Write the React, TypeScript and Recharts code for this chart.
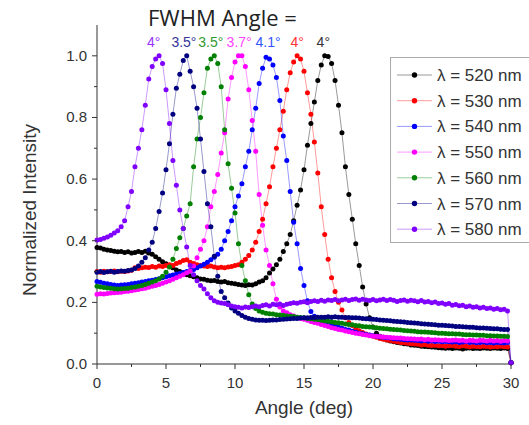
import { LineChart, Line, XAxis, YAxis, ReferenceDot } from "recharts";

const W = 529;
const H = 425;
const FONT = '"Liberation Sans", Arial, sans-serif';
const TEXT = "#333";

// sampling grid of the angle scan (deg)
const ANGLE_STEP = 0.25;
const N_POINTS = 121;
const ANGLES = Array.from({ length: N_POINTS }, (_, i) => i * ANGLE_STEP);

const WAVELENGTHS = ["520", "530", "540", "550", "560", "570", "580"];
const COLORS = ["#000000", "#ff0000", "#0000ff", "#ff00ff", "#008000", "#000080", "#8000ff"];

// normalized intensity, one row = 2 deg
const I520 = [
  0.378, 0.376, 0.372, 0.370, 0.368, 0.366, 0.364, 0.365,
  0.362, 0.364, 0.360, 0.362, 0.365, 0.362, 0.366, 0.360,
  0.356, 0.348, 0.340, 0.332, 0.325, 0.318, 0.312, 0.305,
  0.300, 0.296, 0.290, 0.286, 0.283, 0.280, 0.276, 0.275,
  0.272, 0.270, 0.271, 0.268, 0.266, 0.268, 0.264, 0.262,
  0.260, 0.258, 0.256, 0.255, 0.257, 0.256, 0.260, 0.266,
  0.270, 0.280, 0.295, 0.308, 0.322, 0.340, 0.365, 0.390,
  0.420, 0.465, 0.515, 0.565, 0.630, 0.710, 0.780, 0.850,
  0.920, 0.970, 1.000, 0.998, 0.975, 0.920, 0.840, 0.750,
  0.640, 0.550, 0.470, 0.390, 0.320, 0.250, 0.195, 0.150,
  0.120, 0.100, 0.090, 0.082, 0.078, 0.075, 0.072, 0.070,
  0.068, 0.066, 0.065, 0.062, 0.061, 0.060, 0.058, 0.057,
  0.056, 0.055, 0.054, 0.053, 0.052, 0.051, 0.052, 0.050,
  0.052, 0.051, 0.049, 0.051, 0.052, 0.050, 0.051, 0.050,
  0.052, 0.051, 0.050, 0.052, 0.051, 0.050, 0.052, 0.050,
  0.004,
];

const I530 = [
  0.300, 0.298, 0.301, 0.299, 0.300, 0.302, 0.299, 0.301,
  0.300, 0.302, 0.304, 0.312, 0.310, 0.312, 0.314, 0.313,
  0.316, 0.314, 0.318, 0.316, 0.320, 0.322, 0.320, 0.326,
  0.330, 0.336, 0.338, 0.330, 0.326, 0.322, 0.320, 0.318,
  0.316, 0.318, 0.315, 0.312, 0.314, 0.312, 0.315, 0.316,
  0.320, 0.322, 0.330, 0.340, 0.352, 0.370, 0.395, 0.430,
  0.470, 0.520, 0.575, 0.640, 0.700, 0.760, 0.820, 0.890,
  0.945, 0.980, 1.000, 0.990, 0.950, 0.880, 0.810, 0.720,
  0.620, 0.510, 0.420, 0.340, 0.280, 0.235, 0.200, 0.175,
  0.150, 0.135, 0.125, 0.115, 0.108, 0.102, 0.097, 0.093,
  0.090, 0.087, 0.083, 0.080, 0.078, 0.076, 0.074, 0.072,
  0.070, 0.069, 0.067, 0.066, 0.065, 0.064, 0.062, 0.063,
  0.061, 0.060, 0.061, 0.059, 0.060, 0.058, 0.059, 0.060,
  0.058, 0.057, 0.059, 0.058, 0.056, 0.058, 0.057, 0.056,
  0.058, 0.057, 0.055, 0.057, 0.056, 0.058, 0.056, 0.055,
  0.004,
];

const I540 = [
  0.268, 0.265, 0.262, 0.260, 0.258, 0.256, 0.255, 0.256,
  0.257, 0.258, 0.260, 0.262, 0.264, 0.266, 0.268, 0.270,
  0.272, 0.274, 0.277, 0.280, 0.283, 0.286, 0.289, 0.292,
  0.294, 0.297, 0.300, 0.303, 0.307, 0.312, 0.318, 0.324,
  0.330, 0.338, 0.346, 0.356, 0.372, 0.400, 0.430, 0.465,
  0.510, 0.545, 0.585, 0.640, 0.690, 0.760, 0.830, 0.910,
  0.960, 0.995, 0.990, 0.970, 0.930, 0.855, 0.740, 0.660,
  0.560, 0.460, 0.390, 0.310, 0.255, 0.205, 0.170, 0.155,
  0.145, 0.140, 0.135, 0.131, 0.127, 0.123, 0.119, 0.116,
  0.112, 0.110, 0.106, 0.103, 0.100, 0.098, 0.096, 0.094,
  0.092, 0.090, 0.088, 0.087, 0.085, 0.084, 0.082, 0.081,
  0.080, 0.079, 0.078, 0.078, 0.077, 0.076, 0.075, 0.076,
  0.074, 0.075, 0.073, 0.074, 0.072, 0.073, 0.072, 0.071,
  0.072, 0.070, 0.071, 0.072, 0.070, 0.071, 0.069, 0.070,
  0.071, 0.069, 0.070, 0.068, 0.070, 0.069, 0.068, 0.070,
  0.004,
];

const I550 = [
  0.226, 0.228, 0.227, 0.229, 0.230, 0.231, 0.232, 0.233,
  0.235, 0.236, 0.238, 0.240, 0.242, 0.244, 0.246, 0.249,
  0.252, 0.255, 0.258, 0.262, 0.266, 0.270, 0.275, 0.280,
  0.285, 0.290, 0.296, 0.302, 0.318, 0.345, 0.372, 0.400,
  0.445, 0.510, 0.560, 0.615, 0.685, 0.750, 0.860, 0.930,
  0.980, 1.000, 1.000, 0.965, 0.890, 0.790, 0.690, 0.550,
  0.450, 0.370, 0.320, 0.260, 0.210, 0.185, 0.172, 0.166,
  0.160, 0.156, 0.152, 0.148, 0.145, 0.142, 0.138, 0.135,
  0.132, 0.128, 0.125, 0.122, 0.118, 0.115, 0.112, 0.110,
  0.107, 0.105, 0.102, 0.100, 0.098, 0.096, 0.094, 0.092,
  0.091, 0.090, 0.089, 0.088, 0.087, 0.086, 0.085, 0.084,
  0.084, 0.083, 0.082, 0.082, 0.081, 0.080, 0.081, 0.079,
  0.080, 0.078, 0.079, 0.078, 0.077, 0.078, 0.076, 0.077,
  0.078, 0.076, 0.077, 0.075, 0.077, 0.076, 0.075, 0.077,
  0.076, 0.075, 0.077, 0.075, 0.076, 0.074, 0.076, 0.075,
  0.004,
];

const I560 = [
  0.252, 0.250, 0.248, 0.247, 0.246, 0.244, 0.243, 0.244,
  0.245, 0.246, 0.248, 0.250, 0.252, 0.255, 0.258, 0.262,
  0.266, 0.270, 0.276, 0.285, 0.298, 0.315, 0.340, 0.375,
  0.410, 0.440, 0.480, 0.520, 0.640, 0.730, 0.800, 0.880,
  0.960, 0.990, 1.000, 0.975, 0.900, 0.760, 0.650, 0.570,
  0.490, 0.390, 0.320, 0.270, 0.225, 0.195, 0.180, 0.172,
  0.168, 0.165, 0.163, 0.162, 0.160, 0.159, 0.158, 0.156,
  0.155, 0.154, 0.152, 0.151, 0.150, 0.148, 0.147, 0.145,
  0.144, 0.142, 0.140, 0.139, 0.137, 0.135, 0.134, 0.132,
  0.130, 0.128, 0.127, 0.125, 0.124, 0.122, 0.121, 0.120,
  0.119, 0.118, 0.116, 0.115, 0.114, 0.113, 0.112, 0.111,
  0.110, 0.109, 0.108, 0.107, 0.106, 0.105, 0.104, 0.104,
  0.103, 0.102, 0.101, 0.100, 0.100, 0.099, 0.098, 0.098,
  0.097, 0.097, 0.096, 0.095, 0.095, 0.094, 0.094, 0.093,
  0.093, 0.092, 0.092, 0.091, 0.091, 0.090, 0.090, 0.089,
  0.004,
];

const I570 = [
  0.298, 0.300, 0.297, 0.299, 0.301, 0.298, 0.300, 0.302,
  0.301, 0.303, 0.305, 0.310, 0.318, 0.330, 0.345, 0.370,
  0.395, 0.440, 0.495, 0.555, 0.630, 0.715, 0.810, 0.895,
  0.940, 0.985, 1.000, 0.950, 0.900, 0.830, 0.730, 0.625,
  0.520, 0.445, 0.350, 0.285, 0.235, 0.215, 0.198, 0.182,
  0.172, 0.165, 0.157, 0.152, 0.148, 0.145, 0.143, 0.142,
  0.142, 0.141, 0.142, 0.143, 0.143, 0.144, 0.145, 0.146,
  0.147, 0.148, 0.148, 0.149, 0.150, 0.150, 0.151, 0.151,
  0.152, 0.152, 0.152, 0.153, 0.152, 0.153, 0.152, 0.152,
  0.151, 0.151, 0.150, 0.150, 0.149, 0.148, 0.147, 0.146,
  0.145, 0.144, 0.143, 0.142, 0.141, 0.140, 0.139, 0.138,
  0.137, 0.136, 0.135, 0.134, 0.133, 0.132, 0.131, 0.130,
  0.129, 0.128, 0.127, 0.126, 0.126, 0.125, 0.124, 0.123,
  0.122, 0.122, 0.121, 0.120, 0.119, 0.119, 0.118, 0.117,
  0.117, 0.116, 0.115, 0.114, 0.114, 0.113, 0.112, 0.112,
  0.004,
];

const I580 = [
  0.402, 0.404, 0.408, 0.412, 0.418, 0.425, 0.432, 0.445,
  0.465, 0.510, 0.560, 0.640, 0.700, 0.760, 0.840, 0.925,
  0.965, 0.990, 1.000, 0.975, 0.890, 0.780, 0.660, 0.580,
  0.500, 0.440, 0.380, 0.320, 0.290, 0.270, 0.255, 0.243,
  0.228, 0.215, 0.205, 0.200, 0.198, 0.196, 0.192, 0.188,
  0.186, 0.184, 0.182, 0.185, 0.183, 0.186, 0.188, 0.186,
  0.190, 0.192, 0.188, 0.194, 0.192, 0.195, 0.190, 0.194,
  0.196, 0.199, 0.197, 0.200, 0.202, 0.199, 0.203, 0.205,
  0.203, 0.207, 0.204, 0.208, 0.206, 0.209, 0.205, 0.208,
  0.210, 0.206, 0.209, 0.211, 0.207, 0.210, 0.208, 0.206,
  0.209, 0.205, 0.208, 0.210, 0.206, 0.209, 0.207, 0.203,
  0.206, 0.208, 0.204, 0.207, 0.205, 0.202, 0.206, 0.201,
  0.203, 0.199, 0.201, 0.196, 0.198, 0.194, 0.196, 0.191,
  0.193, 0.189, 0.191, 0.186, 0.188, 0.184, 0.186, 0.182,
  0.184, 0.180, 0.182, 0.178, 0.180, 0.176, 0.178, 0.172,
  0.004,
];

const SERIES = [I520, I530, I540, I550, I560, I570, I580];

// FWHM annotations above the peaks (left to right)
const FWHM_TEXT = ["4°", "3.5°", "3.5°", "3.7°", "4.1°", "4°", "4°"];
const FWHM_ANGLE = [4.1, 6.3, 8.25, 10.3, 12.4, 14.5, 16.4];
const FWHM_COLOR = ["#9933ff", "#333399", "#339933", "#ff44ff", "#3355ff", "#ff3333", "#333333"];
const FWHM_Y = 1.045;

const X_TICKS = [0, 2.5, 5, 7.5, 10, 12.5, 15, 17.5, 20, 22.5, 25, 27.5, 30];
const Y_TICKS = [0, 0.1, 0.2, 0.3, 0.4, 0.5, 0.6, 0.7, 0.8, 0.9, 1.0];

const data = ANGLES.map((angle, i) => {
  const row: Record<string, number> = { angle };
  WAVELENGTHS.forEach((w, k) => {
    row["s" + w] = SERIES[k][i];
  });
  return row;
});

function XTick({ x, y, payload }: any) {
  const v = payload.value;
  const major = v % 5 === 0;
  return (
    <g>
      <line x1={x} x2={x} y1={y} y2={y + (major ? 5 : 3)} stroke={TEXT} strokeWidth={1} />
      {major && (
        <text x={x} y={y + 24} textAnchor="middle" fontSize={15} fill={TEXT} fontFamily={FONT}>
          {v}
        </text>
      )}
    </g>
  );
}

function YTick({ x, y, payload }: any) {
  const v = payload.value;
  const major = Math.round(v * 10) % 2 === 0;
  return (
    <g>
      <line x1={x - (major ? 5 : 3)} x2={x} y1={y} y2={y} stroke={TEXT} strokeWidth={1} />
      {major && (
        <text x={x - 10} y={y + 5} textAnchor="end" fontSize={15} fill={TEXT} fontFamily={FONT}>
          {v.toFixed(1)}
        </text>
      )}
    </g>
  );
}

function Legend() {
  const top = 75;
  const step = 25.7;
  return (
    <g>
      <rect x={390.5} y={57.5} width={140} height={185} fill="#fff" stroke="#aaa" strokeWidth={1} />
      {WAVELENGTHS.map((w, k) => {
        const cy = top + k * step;
        return (
          <g key={w}>
            <line x1={397} x2={432} y1={cy} y2={cy} stroke={COLORS[k]} strokeOpacity={0.4} />
            <circle cx={414.5} cy={cy} r={2.7} fill={COLORS[k]} />
            <text x={437} y={cy + 6} fontSize={17} fill={TEXT} fontFamily={FONT}>
              {"λ = " + w + " nm"}
            </text>
          </g>
        );
      })}
    </g>
  );
}

export default function App() {
  return (
    <div style={{ position: "absolute", left: 0, top: 0, width: W, height: H, background: "#fff" }}>
      <LineChart width={W} height={H} data={data} margin={{ top: 25, right: 18, bottom: 21, left: 37 }}>
        <XAxis
          dataKey="angle"
          type="number"
          domain={[0, 30]}
          ticks={X_TICKS}
          interval={0}
          tickSize={0}
          tickMargin={0}
          tick={<XTick />}
          height={40}
          stroke={TEXT}
        />
        <YAxis
          type="number"
          domain={[0, 1.1]}
          ticks={Y_TICKS}
          interval={0}
          tickSize={0}
          tickMargin={0}
          tick={<YTick />}
          width={60}
          stroke={TEXT}
        />
        {WAVELENGTHS.map((w, k) => (
          <Line
            key={w}
            dataKey={"s" + w}
            type="linear"
            stroke={COLORS[k]}
            strokeOpacity={0.4}
            strokeWidth={1}
            dot={{ r: 2.5, fill: COLORS[k], stroke: "none", strokeWidth: 0 }}
            activeDot={false}
            isAnimationActive={false}
          />
        ))}
        {FWHM_TEXT.map((t, k) => (
          <ReferenceDot
            key={k}
            x={FWHM_ANGLE[k]}
            y={FWHM_Y}
            r={1}
            shape={(p: any) => (
              <text
                x={p.cx}
                y={p.cy + 5}
                textAnchor="middle"
                fontSize={14}
                fill={FWHM_COLOR[k]}
                fontFamily={FONT}
              >
                {t}
              </text>
            )}
          />
        ))}
      </LineChart>
      <svg
        width={W}
        height={H}
        style={{ position: "absolute", left: 0, top: 0, pointerEvents: "none" }}
      >
        <text x={148} y={26} fontSize={22} fill="#222" fontFamily='"Open Sans", sans-serif'>
          FWHM Angle =
        </text>
        <text x={304} y={414} textAnchor="middle" fontSize={19} fill={TEXT} fontFamily={FONT}>
          Angle (deg)
        </text>
        <text
          transform="translate(36 210) rotate(-90)"
          textAnchor="middle"
          fontSize={19}
          fill={TEXT}
          fontFamily={FONT}
        >
          Normalized Intensity
        </text>
        <Legend />
      </svg>
    </div>
  );
}
